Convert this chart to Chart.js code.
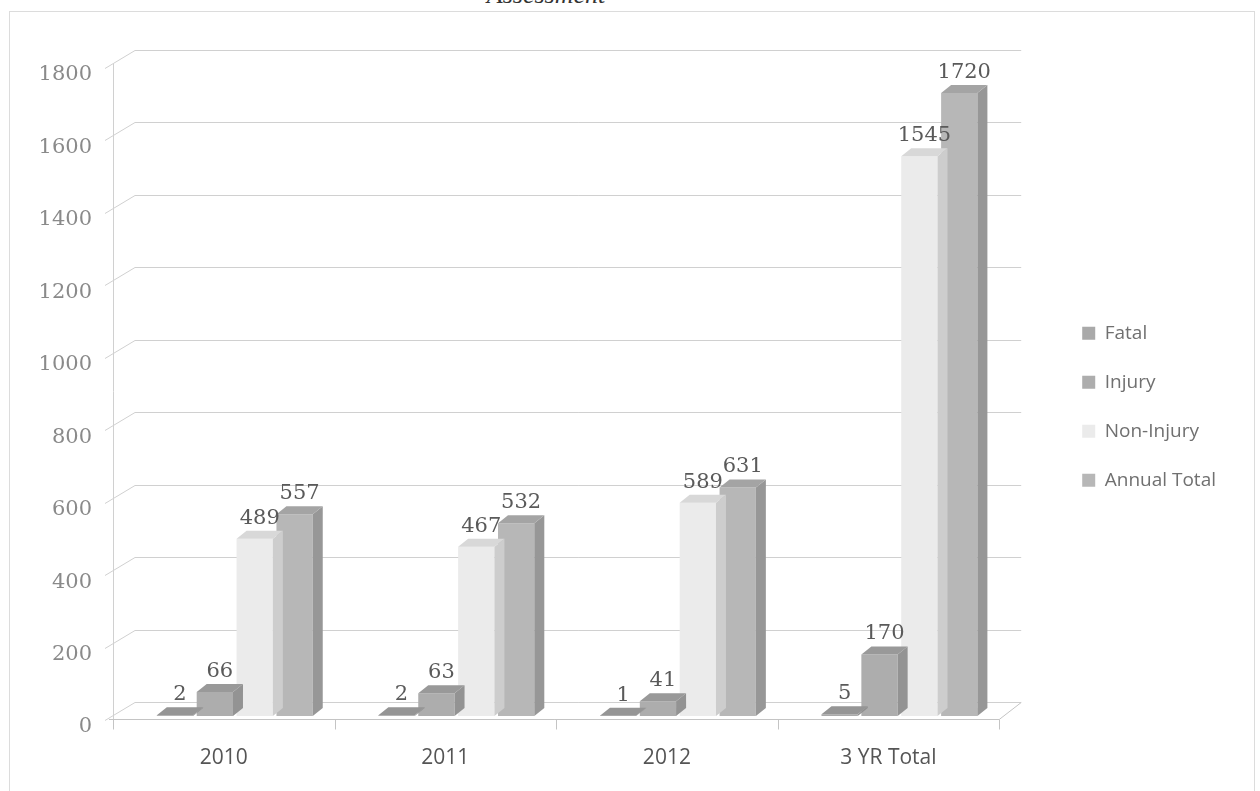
<!DOCTYPE html>
<html>
<head>
<meta charset="utf-8">
<script src="https://cdn.jsdelivr.net/npm/chart.js@4.4.0/dist/chart.umd.min.js"></script>
<style>
  body { margin: 0; background: #fff; }
  #wrap { position: relative; width: 1260px; height: 791px; overflow: hidden; }
  #frame { position: absolute; left: 9px; top: 11px; width: 1244px; height: 820px; border: 1px solid #dcdcdc; }
  #title { position: absolute; left: 0; top: -20px; width: 1092px; text-align: center;
           font: italic 26px 'Liberation Serif', serif; color: #333; }
  canvas { position: absolute; left: 0; top: 0; }
</style>
</head>
<body>
<div id="wrap">
  <div id="frame"></div>
  <div id="title">Assessment</div>
  <canvas id="crashChart" width="1260" height="791"></canvas>
</div>
<script>
// Chart data
const categories = ['2010', '2011', '2012', '3 YR Total'];
const fatal = [2, 2, 1, 5];
const injury = [66, 63, 41, 170];
const nonInjury = [489, 467, 589, 1545];
const annualTotal = [557, 532, 631, 1720];
const yTicks = [0, 200, 400, 600, 800, 1000, 1200, 1400, 1600, 1800];

// colours for front / top / side of each 3D bar
const barColors = [
    { front: '#a9a9a9', top: '#959595', side: '#8f8f8f' },
    { front: '#adadad', top: '#999999', side: '#939393' },
    { front: '#ebebeb', top: '#d8d8d8', side: '#cdcdcd' },
    { front: '#b7b7b7', top: '#a4a4a4', side: '#979797' }
];

const BAR_DX = 10, BAR_DY = 8;    // bar depth
const WALL_DX = 22, WALL_DY = 14; // back wall depth
const BAR_SHIFT = 11;             // bars sit a bit right of the category centre
const gridColor = '#d0d0d0';

// shift bars right (3D perspective)
const shiftBars = {
    id: 'shiftBars',
    afterDatasetsUpdate(chart) {
        chart.data.datasets.forEach((ds, i) => {
            chart.getDatasetMeta(i).data.forEach(el => { el.x += BAR_SHIFT; });
        });
    }
};

// back wall, left wall and floor
const walls = {
    id: 'walls',
    beforeDatasetsDraw(chart) {
        const { ctx, chartArea: a, scales: { y } } = chart;
        ctx.save();
        ctx.strokeStyle = gridColor;
        ctx.lineWidth = 1;
        // gridlines on back wall plus slanted tick on the left wall
        yTicks.forEach(v => {
            const py = Math.round(y.getPixelForValue(v)) + 0.5;
            ctx.beginPath();
            ctx.moveTo(a.left - 8, py + 4);
            ctx.lineTo(a.left + WALL_DX, py - WALL_DY);
            ctx.lineTo(a.right + WALL_DX, py - WALL_DY);
            ctx.stroke();
        });
        // left wall edge
        ctx.beginPath();
        ctx.moveTo(a.left + 0.5, a.bottom + 3);
        ctx.lineTo(a.left + 0.5, y.getPixelForValue(1800));
        ctx.stroke();
        // floor
        const fy = a.bottom + 3.5;
        ctx.strokeStyle = '#c4c4c4';
        ctx.beginPath();
        ctx.moveTo(a.left - 4, fy);
        ctx.lineTo(a.right, fy);
        ctx.lineTo(a.right + WALL_DX, fy - WALL_DY - 3);
        ctx.stroke();
        // category ticks under floor
        const catW = (a.right - a.left) / categories.length;
        for (let i = 0; i <= categories.length; i++) {
            const px = Math.round(a.left + i * catW) + 0.5;
            ctx.beginPath();
            ctx.moveTo(px, fy);
            ctx.lineTo(px, fy + 10);
            ctx.stroke();
        }
        ctx.restore();
    }
};

// top and side faces of each bar, then value labels
const bars3d = {
    id: 'bars3d',
    afterDatasetDraw(chart, args) {
        const { ctx } = chart;
        const c = barColors[args.index];
        const meta = args.meta;
        ctx.save();
        meta.data.forEach(el => {
            const l = el.x - el.width / 2, r = el.x + el.width / 2;
            const t = el.y, b = el.base;
            ctx.fillStyle = c.side;
            ctx.beginPath();
            ctx.moveTo(r, t);
            ctx.lineTo(r + BAR_DX, t - BAR_DY);
            ctx.lineTo(r + BAR_DX, b - BAR_DY);
            ctx.lineTo(r, b);
            ctx.closePath();
            ctx.fill();
            ctx.fillStyle = c.top;
            ctx.beginPath();
            ctx.moveTo(l, t);
            ctx.lineTo(r, t);
            ctx.lineTo(r + BAR_DX, t - BAR_DY);
            ctx.lineTo(l + BAR_DX, t - BAR_DY);
            ctx.closePath();
            ctx.fill();
        });
        ctx.restore();
    },
    afterDatasetsDraw(chart) {
        const { ctx } = chart;
        ctx.save();
        ctx.font = "21px 'DejaVu Serif'";
        ctx.fillStyle = '#5a5a5a';
        ctx.textAlign = 'center';
        ctx.textBaseline = 'bottom';
        chart.data.datasets.forEach((ds, i) => {
            chart.getDatasetMeta(i).data.forEach((el, j) => {
                ctx.fillText(ds.data[j], el.x + BAR_DX / 2, el.y - BAR_DY - 2);
            });
        });
        ctx.restore();
    }
};

const ctx = document.getElementById('crashChart').getContext('2d');
new Chart(ctx, {
    type: 'bar',
    data: {
        labels: categories,
        datasets: [
            { label: 'Fatal', data: fatal, backgroundColor: barColors[0].front },
            { label: 'Injury', data: injury, backgroundColor: barColors[1].front },
            { label: 'Non-Injury', data: nonInjury, backgroundColor: barColors[2].front },
            { label: 'Annual Total', data: annualTotal, backgroundColor: barColors[3].front }
        ]
    },
    options: {
        responsive: false,
        animation: false,
        events: [],
        layout: { padding: { top: 64, bottom: 0, right: 34, left: 0 } },
        datasets: { bar: { categoryPercentage: 0.72, barPercentage: 0.91 } },
        plugins: {
            legend: {
                position: 'right',
                fullSize: false,
                title: { display: true, text: ' ', padding: 6, font: { size: 18 } },
                labels: {
                    boxWidth: 13, boxHeight: 13, padding: 30,
                    color: '#707070',
                    font: { family: "'Open Sans'", size: 19 }
                }
            },
            tooltip: { enabled: false }
        },
        scales: {
            x: {
                grid: { display: false, drawTicks: false },
                border: { display: false },
                ticks: { padding: 29, color: '#555', font: { family: "'Open Sans'", size: 21 } },
                afterFit(s) { s.height = 75; }
            },
            y: {
                min: 0, max: 1800,
                grid: { display: false, drawTicks: false },
                border: { display: false },
                ticks: {
                    stepSize: 200, padding: 21, labelOffset: 11,
                    color: '#8a8a8a', font: { family: "'DejaVu Serif'", size: 21 },
                    callback: v => String(v)
                },
                afterFit(s) { s.width = 113; }
            },
            gap: {
                type: 'linear', position: 'right', display: true,
                grid: { display: false, drawTicks: false },
                border: { display: false },
                ticks: { display: false },
                afterFit(s) { s.width = 53; }
            }
        }
    },
    plugins: [shiftBars, walls, bars3d]
});
</script>
</body>
</html>
